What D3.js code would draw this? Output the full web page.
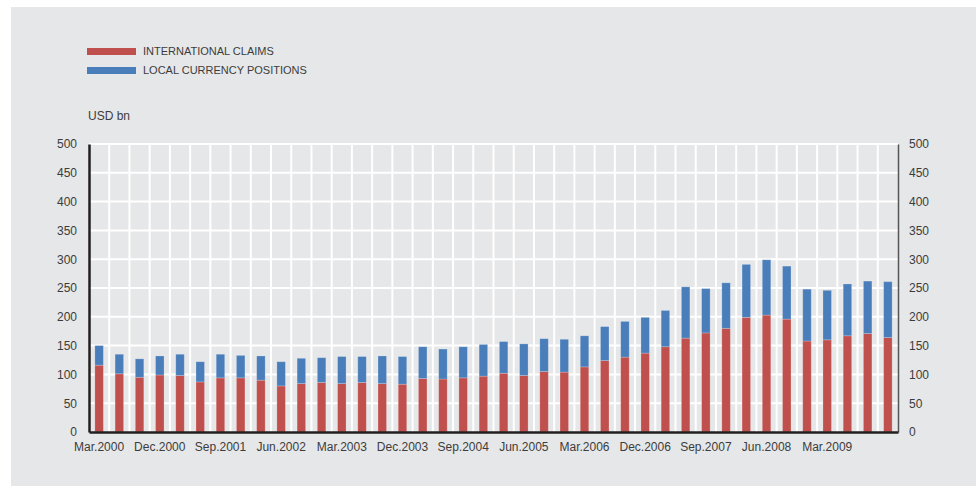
<!DOCTYPE html>
<html>
<head>
<meta charset="utf-8">
<script src="https://cdn.jsdelivr.net/npm/d3@7/dist/d3.min.js"></script>
<style>
  html, body { margin: 0; padding: 0; background: #ffffff; }
  svg { display: block; font-family: "Liberation Sans", Arial, Helvetica, sans-serif; }
</style>
</head>
<body>
<svg id="chart" width="978" height="488"></svg>
<script>
// Quarterly periods, Mar.2000 to Dec.2009
const quarters = [];
for (let yr = 2000; yr <= 2009; yr++) {
  for (const m of ["Mar", "Jun", "Sep", "Dec"]) quarters.push(m + "." + yr);
}

// USD bn
const internationalClaims = [
  116, 101, 95, 99, 98, 87, 94, 94, 90, 80,
  84, 86, 84, 86, 84, 83, 93, 92, 94, 97,
  102, 98, 105, 104, 113, 124, 130, 137, 148, 163,
  172, 180, 199, 203, 196, 158, 160, 167, 171, 164
];
const localCurrencyPositions = [
  34, 34, 32, 33, 37, 35, 41, 39, 42, 42,
  44, 43, 47, 45, 48, 48, 55, 52, 54, 55,
  55, 55, 57, 57, 54, 59, 62, 62, 63, 89,
  77, 79, 92, 96, 92, 90, 86, 90, 91, 97
];

const seriesNames = ["INTERNATIONAL CLAIMS", "LOCAL CURRENCY POSITIONS"];
const seriesColors = ["#c0504d", "#4a7ebb"];
const yTicks = [0, 50, 100, 150, 200, 250, 300, 350, 400, 450, 500];
const xTickLabels = ["Mar.2000", "Dec.2000", "Sep.2001", "Jun.2002", "Mar.2003",
  "Dec.2003", "Sep.2004", "Jun.2005", "Mar.2006", "Dec.2006",
  "Sep.2007", "Jun.2008", "Mar.2009"];

const rows = quarters.map((q, i) => ({
  q, claims: internationalClaims[i], local: localCurrencyPositions[i]
}));
const stacked = d3.stack().keys(["claims", "local"])(rows);

const svg = d3.select("#chart");
const textColor = "#3c3c3c";

// panel background
svg.append("rect").attr("x", 11).attr("y", 7).attr("width", 965).attr("height", 479)
  .attr("fill", "#e6e7e8");

const plotLeft = 89, plotRight = 898, plotTop = 144, plotBottom = 432;

const x = d3.scaleBand().domain(quarters).range([plotLeft, plotRight]).paddingInner(0).paddingOuter(0);
const y = d3.scaleLinear().domain([0, 500]).range([plotBottom, plotTop]);

// horizontal grid
svg.append("g").selectAll("line").data(yTicks.filter(d => d > 0)).join("line")
  .attr("x1", plotLeft).attr("x2", plotRight)
  .attr("y1", d => y(d)).attr("y2", d => y(d))
  .attr("stroke", "#ffffff").attr("stroke-width", 2);

// vertical grid at band boundaries
svg.append("g").selectAll("line").data(quarters.slice(1)).join("line")
  .attr("x1", d => x(d)).attr("x2", d => x(d))
  .attr("y1", plotTop).attr("y2", plotBottom)
  .attr("stroke", "#ffffff").attr("stroke-width", 2);

// stacked bars
const barW = x.bandwidth() * 0.42;
svg.append("g").selectAll("g").data(stacked).join("g")
  .attr("fill", (d, i) => seriesColors[i])
  .selectAll("rect").data(d => d).join("rect")
  .attr("x", d => x(d.data.q) + (x.bandwidth() - barW) / 2)
  .attr("width", barW)
  .attr("y", d => y(d[1]))
  .attr("height", d => y(d[0]) - y(d[1]))
  .attr("stroke", "rgba(255,255,255,0.25)")
  .attr("stroke-width", 0.8);

// left axis
const yAxisL = d3.axisLeft(y).tickValues(yTicks).tickSize(0).tickPadding(12);
const gL = svg.append("g").attr("transform", `translate(${plotLeft},0)`).call(yAxisL);
gL.select(".domain").attr("stroke", "#231f20").attr("stroke-width", 2.5);
gL.selectAll("text").attr("font-size", 12).attr("fill", textColor)
  .attr("font-family", "Liberation Sans, Arial, sans-serif");

// right axis
const yAxisR = d3.axisRight(y).tickValues(yTicks).tickSize(0).tickPadding(11);
const gR = svg.append("g").attr("transform", `translate(${plotRight},0)`).call(yAxisR);
gR.select(".domain").attr("stroke", "#555555").attr("stroke-width", 1.5);
gR.selectAll("text").attr("font-size", 12).attr("fill", textColor)
  .attr("font-family", "Liberation Sans, Arial, sans-serif");

// bottom axis
const xAxis = d3.axisBottom(x)
  .tickValues(xTickLabels).tickSize(0).tickPadding(10);
const gB = svg.append("g").attr("transform", `translate(0,${plotBottom})`).call(xAxis);
gB.select(".domain").attr("stroke", "#231f20").attr("stroke-width", 2.5);
gB.selectAll("text").attr("font-size", 12).attr("fill", textColor)
  .attr("font-family", "Liberation Sans, Arial, sans-serif");

// unit label
svg.append("text").attr("x", 88).attr("y", 120)
  .attr("font-size", 12).attr("fill", textColor).text("USD bn");

// legend
const legend = svg.append("g");
seriesNames.forEach((name, i) => {
  const ly = 48 + i * 19;
  legend.append("rect").attr("x", 87).attr("y", ly).attr("width", 49).attr("height", 7)
    .attr("fill", seriesColors[i]);
  legend.append("text").attr("x", 143).attr("y", ly + 7)
    .attr("font-size", 11).attr("fill", textColor).text(name);
});
</script>
</body>
</html>
